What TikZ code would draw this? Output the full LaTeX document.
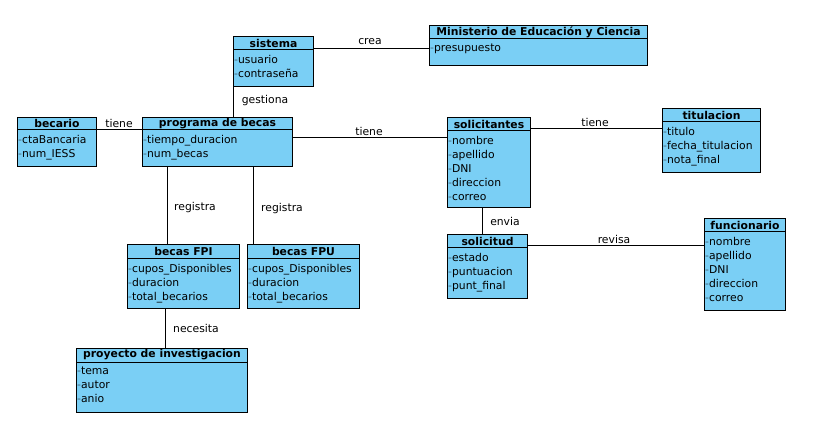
\documentclass[tikz,border=0pt]{standalone}
\usepackage{fontspec}
\setmainfont{DejaVu Sans}
\definecolor{clsfill}{RGB}{122,207,245}
\definecolor{dashc}{RGB}{70,100,120}
\newcommand\att[1]{{\color{dashc}-}#1}
\tikzset{
  clsbox/.style={draw=black, line width=1pt, fill=clsfill, inner sep=0pt},
  clstitle/.style={font=\fontsize{10.8}{13}\selectfont\bfseries, inner sep=0pt},
  clsattr/.style={font=\fontsize{10.8}{14}\selectfont, align=left, inner xsep=1pt, inner ysep=5pt},
  rel/.style={draw=black, line width=1pt},
  lbl/.style={font=\fontsize{10.8}{13}\selectfont, inner sep=0pt}
}
\newcommand\umlcls[8]{%
  \node[clsbox, minimum width=#4pt, minimum height=#5pt, anchor=north west] (#1) at (#2,#3) {};
  \draw[line width=1pt] ([yshift=-#6pt]#1.north west) -- ([yshift=-#6pt]#1.north east);
  \node[clstitle] (#1-t) at ([yshift={-#6pt/2}]#1.north) {#7};
  \node[clsattr, anchor=north west] (#1-a) at ([yshift=-#6pt]#1.north west) {#8};
}
\begin{document}
\begin{tikzpicture}[x=1pt,y=-1pt]
\useasboundingbox[fill=white] (0,0) rectangle (816,446);
\umlcls{sistema}{233}{36}{80}{50}{14}{sistema}{\att{usuario}\\\att{contraseña}}
\umlcls{ministerio}{429}{25}{218}{40}{14}{Ministerio de Educación y Ciencia}{\att{presupuesto}}
\umlcls{becario}{17}{117}{79}{49}{13}{becario}{\att{ctaBancaria}\\\att{num\_IESS}}
\umlcls{programa}{142}{117}{150}{49}{13}{programa de becas}{\att{tiempo\_duracion}\\\att{num\_becas}}
\umlcls{solicitantes}{447}{117}{83}{90}{14}{solicitantes}{\att{nombre}\\\att{apellido}\\\att{DNI}\\\att{direccion}\\\att{correo}}
\umlcls{titulacion}{662}{108}{98}{64}{14}{titulacion}{\att{titulo}\\\att{fecha\_titulacion}\\\att{nota\_final}}
\umlcls{fpi}{127}{244}{112}{64}{15}{becas FPI}{\att{cupos\_Disponibles}\\\att{duracion}\\\att{total\_becarios}}
\umlcls{fpu}{247}{244}{112}{64}{15}{becas FPU}{\att{cupos\_Disponibles}\\\att{duracion}\\\att{total\_becarios}}
\umlcls{proyecto}{76}{348}{171}{64}{14}{proyecto de investigacion}{\att{tema}\\\att{autor}\\\att{anio}}
\umlcls{solicitud}{447}{234}{80}{64}{14}{solicitud}{\att{estado}\\\att{puntuacion}\\\att{punt\_final}}
\umlcls{funcionario}{704}{218}{81}{92}{14}{funcionario}{\att{nombre}\\\att{apellido}\\\att{DNI}\\\att{direccion}\\\att{correo}}

\draw[rel] ([yshift=-13pt]sistema.north east) -- ([yshift=-13pt]sistema.north east -| ministerio.west);
\draw[rel] (sistema.south west) -- (sistema.south west |- programa.north);
\draw[rel] ([yshift=-13pt]becario.north east) -- ([yshift=-13pt]programa.north west);
\draw[rel] ([yshift=-21pt]programa.north east) -- ([yshift=-21pt]programa.north east -| solicitantes.west);
\draw[rel] ([yshift=-12pt]solicitantes.north east) -- ([yshift=-12pt]solicitantes.north east -| titulacion.west);
\draw[rel] ([xshift=25pt]programa.south west) -- ([xshift=25pt]programa.south west |- fpi.north);
\draw[rel] ([xshift=6pt]fpu.north west) -- ([xshift=6pt]fpu.north west |- programa.south);
\draw[rel] ([xshift=38pt]fpi.south west) -- ([xshift=38pt]fpi.south west |- proyecto.north);
\draw[rel] ([xshift=35pt]solicitantes.south west) -- ([xshift=35pt]solicitantes.south west |- solicitud.north);
\draw[rel] ([yshift=-12pt]solicitud.north east) -- ([yshift=-12pt]solicitud.north east -| funcionario.west);

\node[lbl] (l-crea) at (370,42) {crea};
\node[lbl] (l-gestiona) at (265,101) {gestiona};
\node[lbl] (l-tiene1) at (119,123) {tiene};
\node[lbl] (l-tiene2) at (369,131) {tiene};
\node[lbl] (l-tiene3) at (595,122) {tiene};
\node[lbl] (l-registra1) at (195,208) {registra};
\node[lbl] (l-registra2) at (282,209) {registra};
\node[lbl] (l-necesita) at (196,328) {necesita};
\node[lbl] (l-envia) at (505,221) {envia};
\node[lbl] (l-revisa) at (614,239) {revisa};
\end{tikzpicture}
\end{document}
